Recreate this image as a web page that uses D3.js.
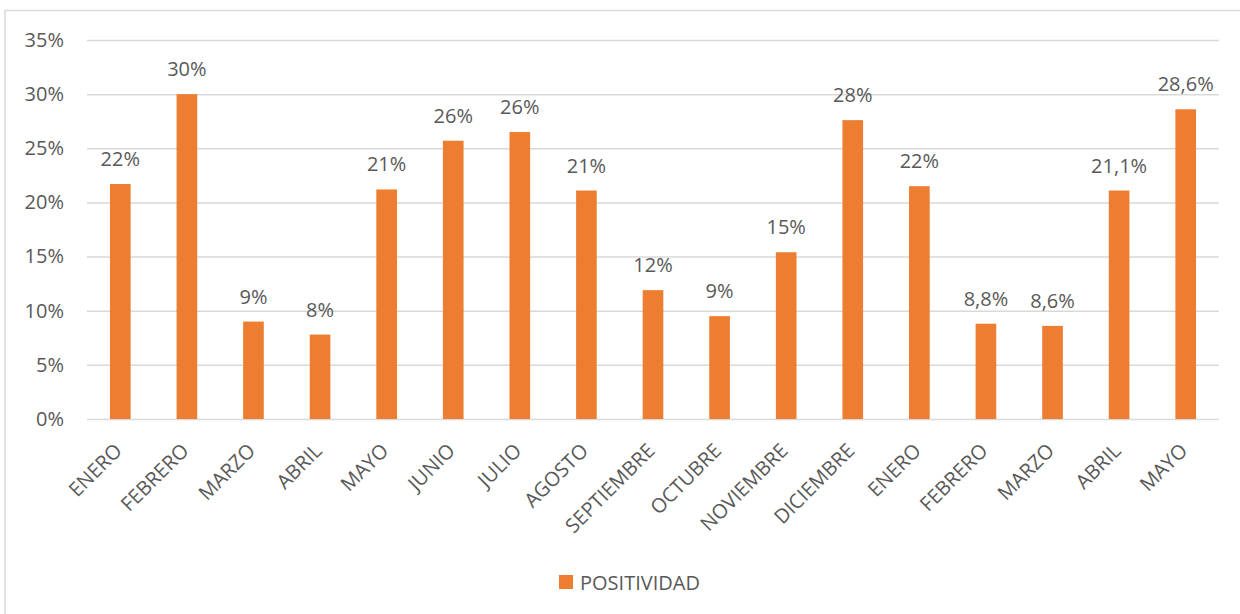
<!DOCTYPE html>
<html>
<head>
<meta charset="utf-8">
<script src="https://cdn.jsdelivr.net/npm/d3@7"></script>
<style>
  body { margin: 0; background: #fff; }
  svg { display: block; font-family: "Open Sans", sans-serif; }
</style>
</head>
<body>
<svg width="1240" height="614"></svg>
<script>
// meses (se repiten enero-mayo del año siguiente)
const meses = ["ENERO", "FEBRERO", "MARZO", "ABRIL", "MAYO", "JUNIO", "JULIO", "AGOSTO",
  "SEPTIEMBRE", "OCTUBRE", "NOVIEMBRE", "DICIEMBRE", "ENERO", "FEBRERO", "MARZO", "ABRIL", "MAYO"];
const positividad = [0.217, 0.300, 0.090, 0.078, 0.212, 0.257, 0.265, 0.211,
  0.119, 0.095, 0.154, 0.276, 0.215, 0.088, 0.086, 0.211, 0.286];
const etiquetas = ["22%", "30%", "9%", "8%", "21%", "26%", "26%", "21%",
  "12%", "9%", "15%", "28%", "22%", "8,8%", "8,6%", "21,1%", "28,6%"];
const ticksY = [0, 0.05, 0.10, 0.15, 0.20, 0.25, 0.30, 0.35];
const serie = "POSITIVIDAD";

const data = meses.map((m, i) => ({ i, mes: m, valor: positividad[i], etiqueta: etiquetas[i] }));

const svg = d3.select("svg");
const gris = "#595959";
const naranja = "#ED7D31";
const linea = "#D9D9D9";

// borde del gráfico
svg.append("rect")
  .attr("x", 5).attr("y", 10.5)
  .attr("width", 1400).attr("height", 800)
  .attr("fill", "none")
  .attr("stroke", linea)
  .attr("stroke-width", 1.5);

const x = d3.scaleBand()
  .domain(data.map(d => d.i))
  .range([87, 1219])
  .paddingInner(0.69)
  .paddingOuter(0.345);

const y = d3.scaleLinear()
  .domain([0, 0.35])
  .range([419, 40]);

// líneas de cuadrícula + etiquetas eje Y
const ejeY = svg.append("g")
  .attr("transform", "translate(87,0)")
  .call(d3.axisLeft(y)
    .tickValues(ticksY)
    .tickFormat(d3.format(".0%"))
    .tickSize(-(1219 - 87))
    .tickPadding(23));

ejeY.select(".domain").remove();
ejeY.selectAll(".tick line")
  .attr("stroke", linea)
  .attr("stroke-width", 1.5);
ejeY.selectAll(".tick text")
  .attr("fill", gris)
  .attr("font-size", 20)
  .attr("font-family", "Open Sans, sans-serif");

// barras
svg.append("g")
  .selectAll("rect")
  .data(data)
  .join("rect")
  .attr("x", d => x(d.i))
  .attr("y", d => y(d.valor))
  .attr("width", x.bandwidth())
  .attr("height", d => y(0) - y(d.valor))
  .attr("fill", naranja);

// etiquetas de datos
svg.append("g")
  .selectAll("text")
  .data(data)
  .join("text")
  .attr("x", d => x(d.i) + x.bandwidth() / 2)
  .attr("y", d => y(d.valor) - 18)
  .attr("text-anchor", "middle")
  .attr("font-size", 20)
  .attr("fill", gris)
  .text(d => d.etiqueta);

// etiquetas eje X (rotadas)
svg.append("g")
  .selectAll("text")
  .data(data)
  .join("text")
  .attr("transform", d => `translate(${x(d.i) + x.bandwidth() / 2 + 3}, ${y(0) + 33}) rotate(-45)`)
  .attr("text-anchor", "end")
  .attr("font-size", 20)
  .attr("fill", gris)
  .text(d => d.mes);

// leyenda
const leyenda = svg.append("g").attr("transform", "translate(559,575)");
leyenda.append("rect")
  .attr("width", 14).attr("height", 14)
  .attr("fill", naranja);
leyenda.append("text")
  .attr("x", 21).attr("y", 7)
  .attr("dominant-baseline", "central")
  .attr("font-size", 20)
  .attr("fill", gris)
  .text(serie);
</script>
</body>
</html>
